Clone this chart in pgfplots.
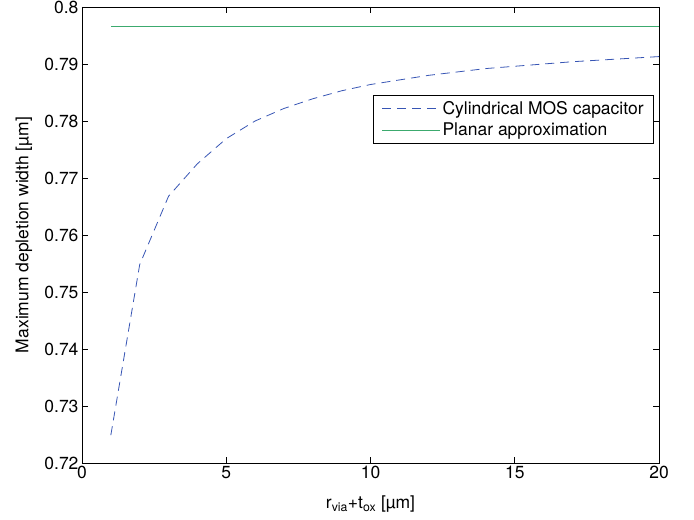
\documentclass[border=0pt]{standalone}
\usepackage{fontspec}
\setmainfont{TeX Gyre Heros}
\usepackage{pgfplots}
\pgfplotsset{compat=1.18}
\definecolor{cylblue}{RGB}{55,85,180}
\definecolor{plangreen}{RGB}{60,170,110}
\begin{document}
\begin{tikzpicture}
\begin{axis}[
  scale only axis, width=577pt, height=456pt,
  xmin=0, xmax=20, ymin=0.72, ymax=0.8,
  xtick={0,5,10,15,20},
  ytick={0.72,0.73,0.74,0.75,0.76,0.77,0.78,0.79,0.8},
  yticklabels={0.72,0.73,0.74,0.75,0.76,0.77,0.78,0.79,0.8},
  tick align=inside, major tick length=6pt,
  tick style={black, line width=0.6pt},
  axis line style={black, line width=0.8pt},
  /pgf/number format/assume math mode=true,
  tick label style={font=\fontsize{17.5}{20}\selectfont},
  label style={font=\fontsize{17.5}{20}\selectfont},
  xlabel={r\textsubscript{via}+t\textsubscript{ox} [µm]},
  ylabel={Maximum depletion width [µm]},
  xlabel style={at={(axis description cs:0.5,-0.1)}, anchor=base},
  ylabel style={at={(axis description cs:-0.1005,0.5)}, anchor=center},
  legend style={at={(axis description cs:1,1)}, anchor=north east,
    xshift=-5pt, yshift=-88pt, draw=black, line width=0.8pt,
    font=\fontsize{17.5}{20}\selectfont, cells={anchor=west},
    inner xsep=8pt, inner ysep=4pt, row sep=3pt},
  legend image code/.code={\path (0pt,0pt) -- (58pt,0pt);\draw[#1] (0pt,0pt) -- (52pt,0pt);},
]
\addplot[cylblue, line width=0.8pt, dash pattern=on 9pt off 6pt] coordinates {
(1,0.7249) (2,0.7548) (3,0.7668) (4,0.7725) (5,0.7769) (6,0.7800)
(7,0.7822) (8,0.7839) (9,0.7853) (10,0.7864) (11,0.7872) (12,0.7880)
(13,0.7886) (14,0.7892) (15,0.7896) (16,0.7900) (17,0.7904) (18,0.7907)
(19,0.7910) (20,0.7913)};
\addlegendentry{Cylindrical MOS capacitor}
\addplot[plangreen, line width=1pt] coordinates {(1,0.7965) (20,0.7965)};
\addlegendentry{Planar approximation}
\end{axis}
\pgfresetboundingbox
\useasboundingbox ([shift={(-82pt,-57pt)}]current axis.south west) rectangle ([shift={(35pt,7pt)}]current axis.north east);
\end{tikzpicture}
\end{document}
